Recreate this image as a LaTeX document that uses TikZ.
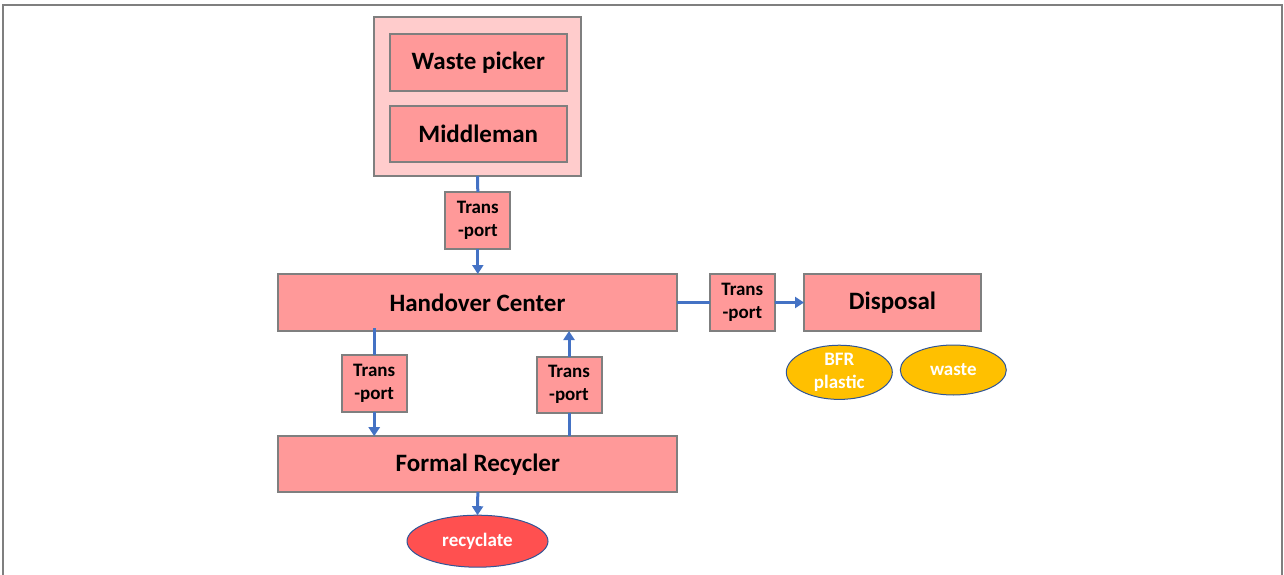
\documentclass[tikz,border=0pt]{standalone}
\usepackage{fontspec}
\setmainfont{Carlito}
\usetikzlibrary{shapes.geometric,arrows.meta}
\definecolor{boxfill}{HTML}{FF9999}
\definecolor{contfill}{HTML}{FFCCCC}
\definecolor{boxline}{HTML}{7F7F7F}
\definecolor{arrowblue}{HTML}{4472C4}
\definecolor{goldfill}{HTML}{FFC000}
\definecolor{redfill}{HTML}{FF5050}
\definecolor{ellline}{HTML}{2F5597}
\tikzset{
  box/.style={draw=boxline, fill=boxfill, line width=2pt, inner sep=0pt, outer sep=0pt, font=\bfseries\fontsize{25}{28}\selectfont, align=center},
  tbox/.style={draw=boxline, fill=boxfill, line width=2pt, inner sep=0pt, outer sep=0pt, font=\bfseries\fontsize{19}{23}\selectfont, align=center, minimum width=65pt, minimum height=57pt},
  cont/.style={draw=boxline, fill=contfill, line width=2pt, inner sep=0pt, outer sep=0pt},
  ell/.style={ellipse, draw=ellline, line width=1pt, inner sep=0pt, outer sep=0pt, text=white, font=\bfseries\fontsize{19}{23}\selectfont, align=center},
  conn/.style={draw=arrowblue, line width=3pt},
  arr/.style={conn, -{Triangle[width=11pt,length=9pt]}},
}
\begin{document}
\begin{tikzpicture}[x=1pt,y=-1pt]
\useasboundingbox (0,0) rectangle (1284,575);
\coordinate (fbl) at (2.5,578);
\coordinate (ftl) at (2.5,5.5);
\coordinate (ftr) at (1281.5,5.5);
\coordinate (fbr) at (1281.5,578);
\draw[boxline, line width=2pt] (fbl) -- (ftl) -- (ftr) -- (fbr);

\node[cont, minimum width=207pt, minimum height=159pt] (cont) at (477.5,96.5) {};
\node[box, minimum width=177pt, minimum height=57pt] (wp) at (478.3,62.3) {Waste picker};
\node[box, minimum width=177pt, minimum height=56pt] (mm) at (478.3,134) {Middleman};
\node[tbox] (t1) at (477.8,220.3) {Trans\\-port};
\node[box, minimum width=399pt, minimum height=57pt] (hc) at (477.5,302.5) {Handover Center};
\node[tbox] (t2) at (742.3,302.5) {Trans\\-port};
\node[box, minimum width=177pt, minimum height=57pt] (disp) at (892.5,302.5) {Disposal};
\node[tbox] (t3) at (374.2,383) {Trans\\-port};
\node[tbox, minimum height=56pt] (t4) at (569,384.7) {Trans\\-port};
\node[box, minimum width=399pt, minimum height=56pt] (fr) at (477.8,464.2) {Formal Recycler};
\node[ell, fill=goldfill, minimum width=106pt, minimum height=50pt] (bfr) at (839.3,372.3) {BFR\\plastic};
\node[ell, fill=goldfill, minimum width=106pt, minimum height=50pt] (waste) at (953.3,370) {waste};
\node[ell, fill=redfill, minimum width=141pt, minimum height=52pt] (rec) at (477.5,541.2) {recyclate};

\draw[conn] (cont.south) -- (t1.north);
\draw[arr] (t1.south) -- (hc.north -| t1.south);
\draw[conn] (hc.east) -- (t2.west);
\draw[arr] (t2.east) -- (disp.west);
\draw[conn] ([yshift=3pt]hc.south -| t3.north) -- (t3.north);
\draw[arr] (t3.south) -- (fr.north -| t3.south);
\draw[conn] (fr.north -| t4.south) -- (t4.south);
\draw[arr] (t4.north) -- (hc.south -| t4.north);
\draw[arr] (fr.south) -- (rec.north);
\end{tikzpicture}
\end{document}
